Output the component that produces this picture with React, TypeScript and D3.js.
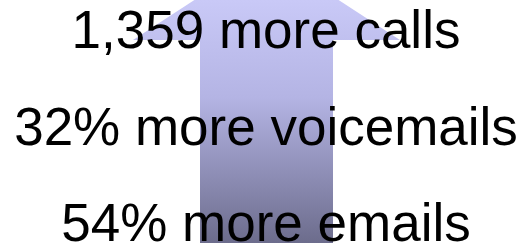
import React from "react";
import * as d3 from "d3";

const lines: string[] = ["1,359 more calls", "32% more voicemails", "54% more emails"];
const baselines: number[] = [48, 145, 241];

const W = 525;
const H = 243;

export default function App() {
  const cx = 266.5;
  const arrowPts: [number, number][] = [
    [cx, -47],
    [400, 40],
    [333, 40],
    [333, 260],
    [200, 260],
    [200, 40],
    [133, 40],
  ];
  const path = d3.line()(arrowPts) + "Z";
  const y = d3.scaleOrdinal<string, number>().domain(lines).range(baselines);
  return (
    <svg width={W} height={H} style={{ position: "absolute", left: 0, top: 0 }}>
      <defs>
        <linearGradient id="g" gradientUnits="userSpaceOnUse" x1="0" y1="0" x2="0" y2={H}>
          <stop offset="0" stopColor="#c9c9f7" />
          <stop offset="0.4" stopColor="#b4b4e4" />
          <stop offset="1" stopColor="#6c6c8c" />
        </linearGradient>
      </defs>
      <rect width={W} height={H} fill="#fff" />
      <path d={path} fill="url(#g)" />
      {lines.map((t) => (
        <text
          key={t}
          x={266}
          y={y(t)}
          textAnchor="middle"
          fontFamily="Liberation Sans, Arial, sans-serif"
          fontSize={53}
          fill="#000"
        >
          {t}
        </text>
      ))}
    </svg>
  );
}
